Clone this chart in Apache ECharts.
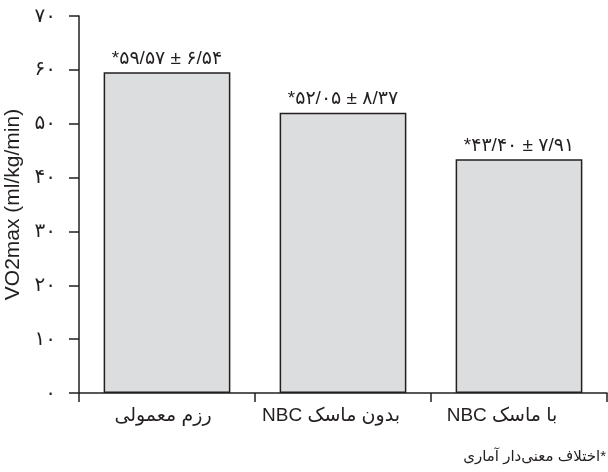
<!DOCTYPE html>
<html>
<head>
<meta charset="utf-8">
<script src="https://cdn.jsdelivr.net/npm/echarts@6/dist/echarts.min.js"></script>
<style>
html,body{margin:0;padding:0;background:#fff;}
#chart{width:608px;height:472px;}
</style>
</head>
<body>
<div id="chart"></div>
<script>
const categories = ['رزم معمولی', 'بدون ماسک NBC', 'با ماسک NBC'];
const values = [59.57, 52.05, 43.40];
const barLabels = ['*۵۹/۵۷ ± ۶/۵۴', '*۵۲/۰۵ ± ۸/۳۷', '*۴۳/۴۰ ± ۷/۹۱'];
const yTickLabels = ['۰', '۱۰', '۲۰', '۳۰', '۴۰', '۵۰', '۶۰', '۷۰'];
const yTitle = 'VO2max (ml/kg/min)';
const footnote = '*اختلاف معنی‌دار آماری';

const FONT = '"Liberation Sans", "DejaVu Sans", sans-serif';
const INK = '#231f20';
const RLI = '\u2067', PDI = '\u2069', RLM = '\u200F';
// small per-category left shifts of the tick labels (visual alignment)
const labelPad = [8, 24, 34];

const chart = echarts.init(document.getElementById('chart'), null, {renderer: 'canvas'});
chart.setOption({
  animation: false,
  backgroundColor: '#ffffff',
  grid: {left: 79, right: 1, top: 16, bottom: 79, containLabel: false, outerBoundsMode: 'none'},
  xAxis: {
    type: 'category',
    data: categories,
    axisLine: {lineStyle: {color: INK, width: 1.5}},
    axisTick: {show: true, length: 9, lineStyle: {color: INK, width: 1.5}},
    axisLabel: {
      interval: 0, hideOverlap: false,
      color: INK, fontSize: 19, fontFamily: FONT, margin: 13,
      formatter: (v, i) => '{p' + i + '|' + RLI + v + PDI + '}',
      rich: {
        p0: {fontSize: 19, fontFamily: FONT, color: INK, padding: [0, labelPad[0], 0, 0]},
        p1: {fontSize: 19, fontFamily: FONT, color: INK, padding: [0, labelPad[1], 0, 0]},
        p2: {fontSize: 19, fontFamily: FONT, color: INK, padding: [0, labelPad[2], 0, 0]}
      }
    },
    splitLine: {show: false}
  },
  yAxis: {
    type: 'value',
    min: 0, max: 70, interval: 10,
    name: yTitle,
    nameLocation: 'middle',
    nameRotate: 90,
    nameGap: 50,
    nameTextStyle: {color: INK, fontSize: 21, fontFamily: FONT},
    axisLine: {show: true, lineStyle: {color: INK, width: 1.5}},
    axisTick: {show: true, length: 10, lineStyle: {color: INK, width: 1.5}},
    axisLabel: {
      hideOverlap: false,
      color: INK, fontSize: 20, fontFamily: FONT, margin: 23,
      formatter: v => yTickLabels[Math.round(v / 10)]
    },
    splitLine: {show: false}
  },
  series: [{
    type: 'bar',
    data: values,
    barCategoryGap: '28%',
    itemStyle: {color: '#dcdddf', borderColor: INK, borderWidth: 1.5},
    label: {
      show: true, position: 'top', distance: 4,
      color: INK, fontSize: 19, fontFamily: FONT,
      formatter: p => barLabels[p.dataIndex]
    }
  }],
  graphic: [{
    type: 'text',
    right: 2,
    top: 449,
    style: {
      text: RLI + RLM + footnote + PDI,
      fill: INK, fontSize: 15, fontFamily: FONT
    }
  }]
});
</script>
</body>
</html>
